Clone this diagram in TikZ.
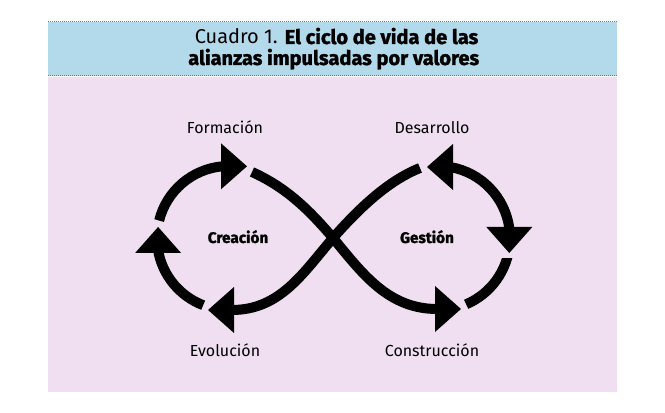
\documentclass[tikz,border=0pt]{standalone}
\usepackage{fontspec}
\setmainfont{Fira Sans}
\newfontfamily\heavyfont{Fira Sans}[BoldFeatures={FakeBold=1.5}]
\definecolor{bluehdr}{RGB}{178,218,235}
\definecolor{pinkbg}{RGB}{240,223,241}
\definecolor{dotgray}{RGB}{120,120,130}
\begin{document}
\begin{tikzpicture}[x=0.75pt,y=0.75pt,
  loopline/.style={line width=7.5pt, draw=black},
  lbl/.style={font=\fontsize{12}{14}\selectfont, anchor=base, inner sep=0pt},
  ctr/.style={font=\heavyfont\bfseries\fontsize{11.5}{14}\selectfont, anchor=base, inner sep=0pt},
  ttl/.style={font=\fontsize{15}{17}\selectfont, anchor=base, inner sep=0pt},
  dotline/.style={draw=dotgray, line width=0.75pt, dash pattern=on 0.75pt off 0.75pt},
  ahead/.pic={\fill[black] (0,0) -- (-26,23) -- (-26,-23) -- cycle;}]
\useasboundingbox (0,0) rectangle (665,413);
\fill[white] (0,0) rectangle (665,413);
\fill[bluehdr] (48,337) rectangle (617,391);
\fill[pinkbg] (48,21) rectangle (617,335.5);
\draw[dotline] (48,391) -- (617,391);
\draw[dotline] (48,337) -- (617,337);
% title
\node[ttl] (t1) at (336.5,369) {Cuadro 1. {\heavyfont\bfseries El ciclo de vida de las}};
\node[ttl] (t2) at (333.7,348) {{\heavyfont\bfseries alianzas impulsadas por valores}};
% centres
\coordinate (C1) at (229,175);
\coordinate (C2) at (438,175);
% left loop
\draw[loopline] (C1) ++(166:72) arc[start angle=166,end angle=95,radius=72];
\pic at (247,246.7) {ahead};
\draw[loopline] (C1) ++(249:72) arc[start angle=249,end angle=190,radius=72];
\pic[rotate=90] at (158.1,186) {ahead};
% crossing lines
\draw[loopline] (420,245) .. controls (390,233) and (362,208) .. (333,175) .. controls (303,140) and (280,103) .. (232,103);
\pic[rotate=180] at (208,103) {ahead};
\draw[loopline] (252,241) .. controls (283,227) and (306,207) .. (333,175) .. controls (362,140) and (388,104) .. (437,104);
\pic at (461,104) {ahead};
% right loop
\begin{scope}
  \clip (400,60) rectangle (560,154);
  \draw[loopline] (C2) ++(-67:72) arc[start angle=-67,end angle=-5,radius=72];
\end{scope}
\draw[loopline] (C2) ++(80:72) arc[start angle=80,end angle=8,radius=72];
\pic[rotate=180] at (427,246) {ahead};
\pic[rotate=-90] at (509.3,160) {ahead};
% labels
\node[lbl] (form) at (225,279) {Formación};
\node[lbl] (desa) at (432,279) {Desarrollo};
\node[lbl] (evol) at (225,56) {Evolución};
\node[lbl] (cons) at (432,56) {Construcción};
\node[ctr] (crea) at (238,170) {Creación};
\node[ctr] (gest) at (427,170) {Gestión};
\end{tikzpicture}
\end{document}
